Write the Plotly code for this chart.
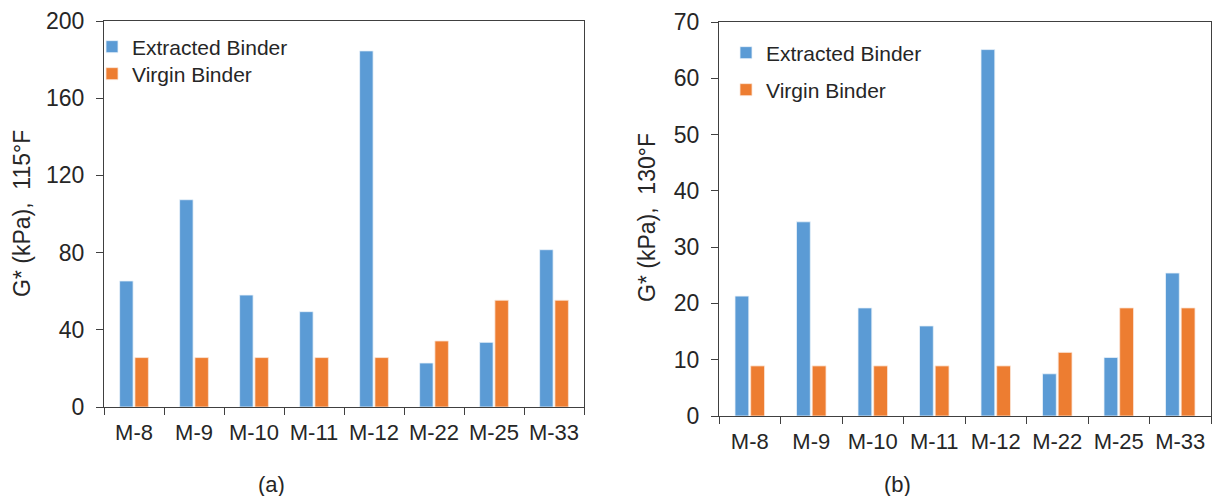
import plotly.graph_objects as go

categories = ["M-8", "M-9", "M-10", "M-11", "M-12", "M-22", "M-25", "M-33"]
extracted_115 = [65.3, 107.4, 58.0, 49.4, 184.5, 22.8, 33.5, 81.5]
virgin_115 = [25.6, 25.6, 25.6, 25.6, 25.6, 34.2, 55.3, 55.3]
extracted_130 = [21.3, 34.5, 19.2, 16.0, 65.1, 7.5, 10.4, 25.4]
virgin_130 = [8.9, 8.9, 8.9, 8.9, 8.9, 11.3, 19.2, 19.2]

BLUE = "#5B9BD5"
ORANGE = "#ED7D31"
FONT = "Arial, Liberation Sans, sans-serif"
TXT = "#262626"
LINE = "#404040"
W, H = 1221, 496

fig = go.Figure()
fig.add_trace(go.Bar(x=categories, y=extracted_115, name="Extracted Binder",
                     marker=dict(color=BLUE, line=dict(color="#EAF2FA", width=0.8)),
                     xaxis="x", yaxis="y", legend="legend"))
fig.add_trace(go.Bar(x=categories, y=virgin_115, name="Virgin Binder",
                     marker=dict(color=ORANGE, line=dict(color="#FBE5D6", width=0.8)),
                     xaxis="x", yaxis="y", legend="legend3"))
fig.add_trace(go.Bar(x=categories, y=extracted_130, name="Extracted Binder",
                     marker=dict(color=BLUE, line=dict(color="#EAF2FA", width=0.8)),
                     xaxis="x2", yaxis="y2", legend="legend2"))
fig.add_trace(go.Bar(x=categories, y=virgin_130, name="Virgin Binder",
                     marker=dict(color=ORANGE, line=dict(color="#FBE5D6", width=0.8)),
                     xaxis="x2", yaxis="y2", legend="legend4"))


def px_x(v):
    return v / W


def px_y(v):
    return 1 - v / H


xcommon = dict(showline=True, linecolor=LINE, linewidth=1.3, mirror=True,
               ticks="outside", ticklen=7, tickcolor=LINE, tickwidth=1.3,
               tickson="boundaries", showgrid=False, automargin=False,
               ticklabelstandoff=5, tickangle=0,
               tickfont=dict(family=FONT, size=22, color=TXT), fixedrange=True)
ycommon = dict(showline=True, linecolor=LINE, linewidth=1.3, mirror=True,
               ticks="outside", ticklen=7, tickcolor=LINE, tickwidth=1.3,
               showgrid=False, zeroline=False, automargin=False,
               ticklabelstandoff=7,
               tickfont=dict(family=FONT, size=23, color=TXT), fixedrange=True)


def leg(xp, yp):
    return dict(x=px_x(xp), y=px_y(yp), xanchor="left", yanchor="middle",
                bgcolor="rgba(0,0,0,0)", font=dict(family=FONT, size=21, color=TXT),
                itemwidth=30)


fig.update_layout(
    width=W, height=H,
    margin=dict(l=0, r=0, t=0, b=0),
    paper_bgcolor="white", plot_bgcolor="white",
    barmode="group", bargap=0.49, bargroupgap=0.12,
    font=dict(family=FONT, size=21, color=TXT),
    xaxis=dict(domain=[px_x(104), px_x(584)], anchor="y", **xcommon),
    yaxis=dict(domain=[px_y(407), px_y(21)], anchor="x", range=[0, 200],
               dtick=40, **ycommon),
    xaxis2=dict(domain=[px_x(719), px_x(1211)], anchor="y2", **xcommon),
    yaxis2=dict(domain=[px_y(416), px_y(22)], anchor="x2", range=[0, 70],
                dtick=10, **ycommon),
    legend=leg(92, 47),
    legend3=leg(92, 74),
    legend2=leg(726, 53),
    legend4=leg(726, 90),
    showlegend=True,
    annotations=[
        dict(text="G* (kPa),\u00a0 115°F", x=px_x(22), y=px_y(214), xref="paper", yref="paper",
             textangle=-90, showarrow=False, font=dict(family=FONT, size=23, color=TXT),
             xanchor="center", yanchor="middle"),
        dict(text="G* (kPa),\u00a0 130°F", x=px_x(647), y=px_y(218), xref="paper", yref="paper",
             textangle=-90, showarrow=False, font=dict(family=FONT, size=23, color=TXT),
             xanchor="center", yanchor="middle"),
        dict(text="(a)", x=px_x(271), y=px_y(484), xref="paper", yref="paper",
             showarrow=False, font=dict(family=FONT, size=22, color=TXT),
             xanchor="center", yanchor="middle"),
        dict(text="(b)", x=px_x(897), y=px_y(484), xref="paper", yref="paper",
             showarrow=False, font=dict(family=FONT, size=22, color=TXT),
             xanchor="center", yanchor="middle"),
    ],
)

fig.write_html(
    "out.html",
    config={"displayModeBar": False},
    post_script="document.body.style.margin='0';document.body.style.overflow='hidden';",
)
